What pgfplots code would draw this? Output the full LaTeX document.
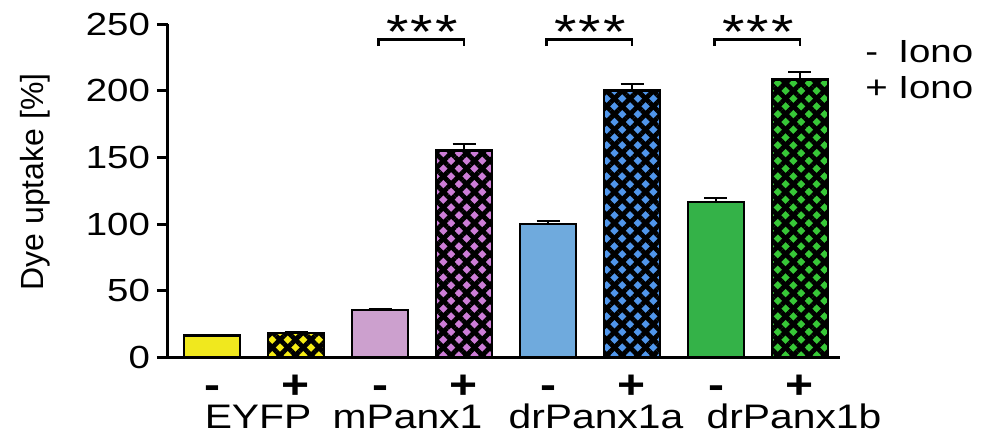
\documentclass[border=0pt]{standalone}
\usepackage{fontspec}
\setmainfont[FakeStretch=1.2]{Liberation Sans}
\newfontfamily\plainsans{Liberation Sans}
\usepackage{pgfplots}
\pgfplotsset{compat=1.18}
\usetikzlibrary{patterns.meta}

\definecolor{yellowc}{RGB}{240,232,30}
\definecolor{pinkc}{RGB}{204,160,206}
\definecolor{bluec}{RGB}{111,170,221}
\definecolor{greenc}{RGB}{52,178,72}
\definecolor{yellowh}{RGB}{245,235,20}
\definecolor{pinkh}{RGB}{205,125,215}
\definecolor{blueh}{RGB}{80,150,235}
\definecolor{greenh}{RGB}{55,200,55}

\pgfplotsset{
  mybar/.style={ybar, draw=black, line width=1.3pt,
    error bars/.cd, y dir=plus, y explicit,
    error bar style={line width=1.1pt, black},
    error mark options={rotate=90, mark size=5.75pt, line width=1.1pt, black}},
  hatch/.style={
    postaction={pattern color=black, pattern={Lines[angle=45,distance=5.5pt,line width=2.4pt]}},
    postaction={pattern color=black, pattern={Lines[angle=-45,distance=5.5pt,line width=2.4pt]}}},
}

\begin{document}
\begin{tikzpicture}
\begin{axis}[
  scale only axis, width=336pt, height=166.67pt,
  xmin=-0.524, xmax=7.476, ymin=0, ymax=250,
  axis x line*=bottom, axis y line*=left,
  axis line style={line width=1.5pt, -},
  ytick={0,50,...,250},
  xtick={0,...,7},
  xticklabels={-,+,-,+,-,+,-,+},
  xticklabel style={font=\fontsize{20}{20}\selectfont\bfseries, anchor=base, inner sep=0pt, yshift=-15.3pt},
  extra x ticks={0.548,2.327,4.571,6.929},
  extra x tick labels={EYFP,mPanx1,drPanx1a,drPanx1b},
  extra x tick style={xticklabel style={font=\fontsize{17}{17}\selectfont\mdseries, anchor=base, inner sep=0pt, yshift=-14.6pt}},
  x tick style={draw=none},
  y tick style={line width=1.5pt, black},
  tick align=outside, major tick length=5.5pt,
  /pgf/number format/assume math mode=true,
  yticklabel style={font=\fontsize{16}{16}\selectfont},
  bar width=28pt, bar shift=0pt,
  clip=false,
]
% EYFP
\addplot[fill=yellowc, mybar] coordinates {(0,16.5) +- (0,0.5)};
\addplot[fill=yellowh, hatch, mybar] coordinates {(1,18.3) +- (0,0.8)};
% mPanx1
\addplot[fill=pinkc, mybar] coordinates {(2,35.5) +- (0,1.0)};
\addplot[fill=pinkh, hatch, mybar] coordinates {(3,155) +- (0,5)};
% drPanx1a
\addplot[fill=bluec, mybar] coordinates {(4,100) +- (0,2.5)};
\addplot[fill=blueh, hatch, mybar] coordinates {(5,200) +- (0,5)};
% drPanx1b
\addplot[fill=greenc, mybar] coordinates {(6,116.5) +- (0,3)};
\addplot[fill=greenh, hatch, mybar] coordinates {(7,208.5) +- (0,5.5)};

% significance brackets
\draw[line width=1.2pt] (axis cs:1.98,233.5) |- (axis cs:3,238.5) -- (axis cs:3,233.5);
\draw[line width=1.2pt] (axis cs:3.98,233.5) |- (axis cs:5,238.5) -- (axis cs:5,233.5);
\draw[line width=1.2pt] (axis cs:5.98,233.5) |- (axis cs:7,238.5) -- (axis cs:7,233.5);
\node[anchor=base, inner sep=0pt, font=\fontsize{24}{24}\selectfont]
  at (axis cs:2.5,231.3) {*\hspace{1pt}*\hspace{1pt}*};
\node[anchor=base, inner sep=0pt, font=\fontsize{24}{24}\selectfont]
  at (axis cs:4.5,231.3) {*\hspace{1pt}*\hspace{1pt}*};
\node[anchor=base, inner sep=0pt, font=\fontsize{24}{24}\selectfont]
  at (axis cs:6.5,231.3) {*\hspace{1pt}*\hspace{1pt}*};

% y label
\node[rotate=90, anchor=base, inner sep=0pt, font=\plainsans\fontsize{16}{16}\selectfont]
  at (axis cs:-2.012,131.5) {Dye uptake [\%]};

% key
\node[anchor=base west, inner sep=0pt, font=\fontsize{16}{16}\selectfont]
  at (axis cs:7.774,221.5) {\rlap{-}\phantom{+} Iono};
\node[anchor=base west, inner sep=0pt, font=\fontsize{16}{16}\selectfont]
  at (axis cs:7.774,194.5) {+ Iono};

\coordinate (bl) at (axis cs:-2.524,-56.8);
\coordinate (tr) at (axis cs:9.155,268);
\end{axis}
\pgfresetboundingbox
\path[use as bounding box] (bl) rectangle (tr);
\end{tikzpicture}
\end{document}
